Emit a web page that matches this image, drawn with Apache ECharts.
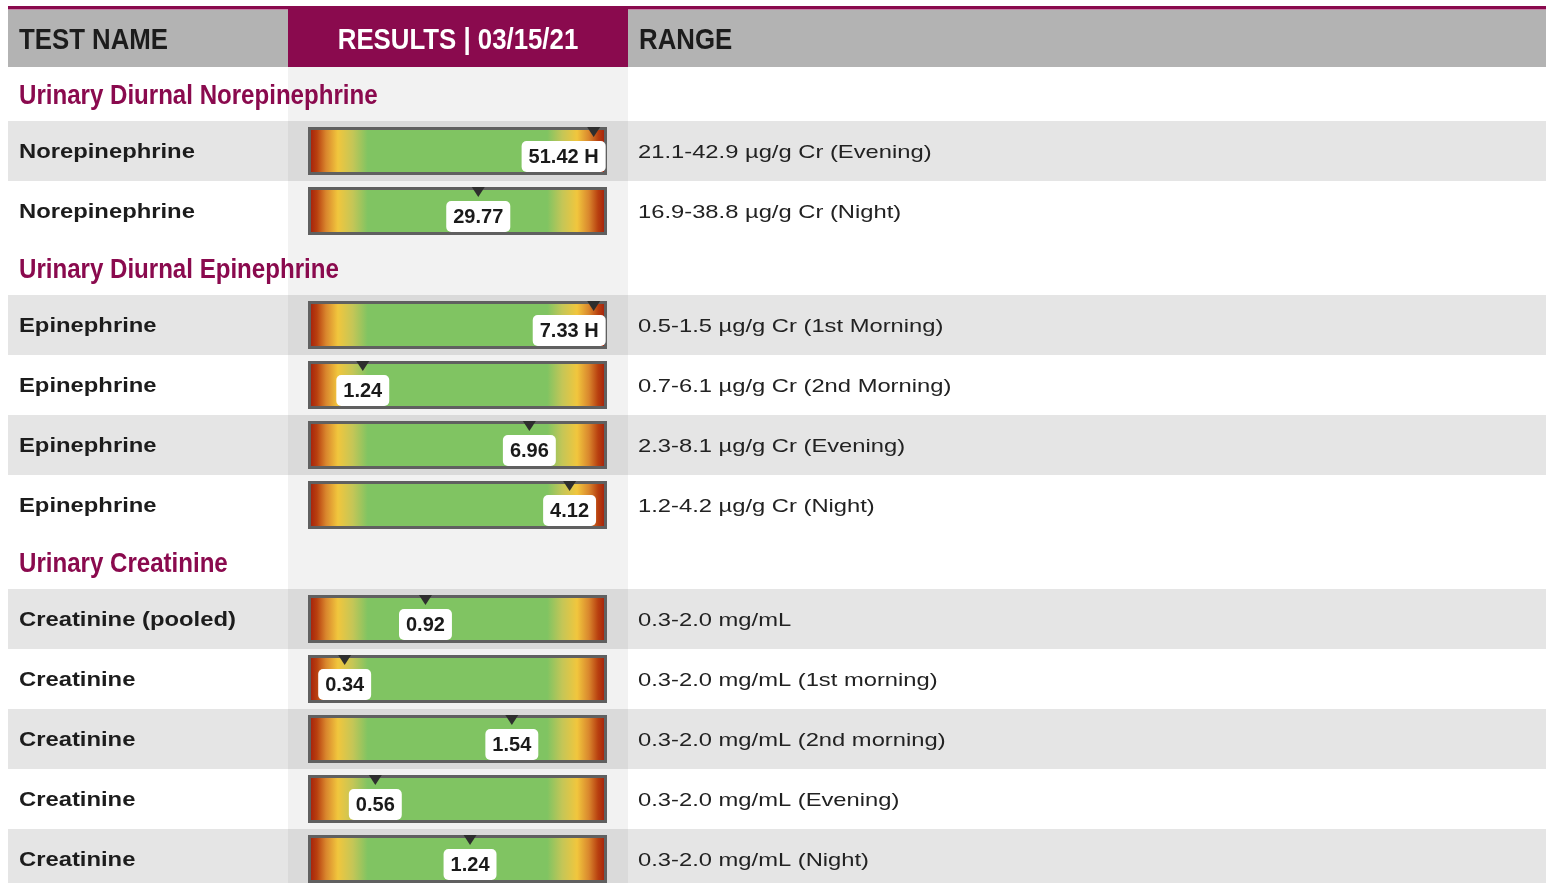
<!DOCTYPE html>
<html>
<head>
<meta charset="utf-8">
<script src="https://cdn.jsdelivr.net/npm/echarts@6/dist/echarts.min.js"></script>
<style>
  html, body { margin: 0; padding: 0; background: #fff; }
  #main { width: 1546px; height: 883px; }
</style>
</head>
<body>
<div id="main"></div>
<script>
// table content
const section_titles = ['Urinary Diurnal Norepinephrine', 'Urinary Diurnal Epinephrine', 'Urinary Creatinine']
const test_section = [0, 0, 1, 1, 1, 1, 2, 2, 2, 2, 2]
const test_names = ['Norepinephrine', 'Norepinephrine', 'Epinephrine', 'Epinephrine', 'Epinephrine', 'Epinephrine',
  'Creatinine (pooled)', 'Creatinine', 'Creatinine', 'Creatinine', 'Creatinine']
const results = [51.42, 29.77, 7.33, 1.24, 6.96, 4.12, 0.92, 0.34, 1.54, 0.56, 1.24]
const range_low = [21.1, 16.9, 0.5, 0.7, 2.3, 1.2, 0.3, 0.3, 0.3, 0.3, 0.3]
const range_high = [42.9, 38.8, 1.5, 6.1, 8.1, 4.2, 2.0, 2.0, 2.0, 2.0, 2.0]
const range_units = ['µg/g Cr', 'µg/g Cr', 'µg/g Cr', 'µg/g Cr', 'µg/g Cr', 'µg/g Cr',
  'mg/mL', 'mg/mL', 'mg/mL', 'mg/mL', 'mg/mL']
const range_notes = ['(Evening)', '(Night)', '(1st Morning)', '(2nd Morning)', '(Evening)', '(Night)',
  '', '(1st morning)', '(2nd morning)', '(Evening)', '(Night)']
const header_labels = ['TEST NAME', 'RESULTS | 03/15/21', 'RANGE']

const MAGENTA = '#8a0a4e'
const W = 1546
const COL2_L = 288, COL2_R = 628

const bar_gradient = () => new echarts.graphic.LinearGradient(0, 0, 1, 0, [
  { offset: 0, color: '#a0180b' },
  { offset: 0.03, color: '#b8400f' },
  { offset: 0.06, color: '#d9862d' },
  { offset: 0.1, color: '#f1c63d' },
  { offset: 0.15, color: '#c4c657' },
  { offset: 0.2, color: '#80c462' },
  { offset: 0.8, color: '#80c462' },
  { offset: 0.85, color: '#c4c657' },
  { offset: 0.9, color: '#f1c63d' },
  { offset: 0.94, color: '#d9862d' },
  { offset: 0.97, color: '#b8400f' },
  { offset: 1, color: '#a0180b' }
])

function txt(text, x, y, font, fill, scaleX, align) {
  return {
    type: 'text', x: x, y: y, scaleX: scaleX, z: 10, silent: true,
    style: {
      text: text, x: 0, y: 0, font: font, fill: fill,
      align: align || 'left', verticalAlign: 'middle',
      textAlign: align || 'left', textVerticalAlign: 'middle'
    }
  }
}
function rect(x, y, w, h, fill) {
  return { type: 'rect', z: -10, silent: true, shape: { x: x, y: y, width: w, height: h }, style: { fill: fill } }
}

const graphics = []
const grids = [], x_axes = [], y_axes = [], series = []

// header
graphics.push(rect(8, 10, W - 8, 57, '#b3b3b3'))
graphics.push(rect(8, 6, W - 8, 3.5, MAGENTA))
graphics.push(rect(COL2_L, 6, COL2_R - COL2_L, 61, MAGENTA))
graphics.push(rect(COL2_L, 67, COL2_R - COL2_L, 883 - 67, '#f2f2f2'))
graphics.push(txt(header_labels[0], 19, 41, 'bold 30px "Liberation Sans"', '#1c1c1c', 0.86))
graphics.push(txt(header_labels[1], (COL2_L + COL2_R) / 2, 41, 'bold 30px "Liberation Sans"', '#ffffff', 0.86, 'center'))
graphics.push(txt(header_labels[2], 639, 41, 'bold 30px "Liberation Sans"', '#1c1c1c', 0.86))

let y = 67
let last_section = -1
let idx_in_section = 0
test_names.forEach((name, i) => {
  if (test_section[i] !== last_section) {
    last_section = test_section[i]
    graphics.push(txt(section_titles[last_section], 19, y + 29, 'bold 28px "Liberation Sans"', MAGENTA, 0.86))
    y += 54
    idx_in_section = 0
  }
  const top = y
  if (idx_in_section % 2 === 0) {
    graphics.push(rect(8, top, W - 8, 60, '#e5e5e5'))
    graphics.push(rect(COL2_L, top, COL2_R - COL2_L, 60, '#dadada'))
  }
  graphics.push(txt(name, 19, top + 31, 'bold 20px "Liberation Sans"', '#1c1c1c', 1.19))
  const lo = range_low[i], hi = range_high[i]
  let rtext = lo.toFixed(1) + '-' + hi.toFixed(1) + ' ' + range_units[i]
  if (range_notes[i]) rtext += ' ' + range_notes[i]
  graphics.push(txt(rtext, 638, top + 32, '19px "Liberation Sans"', '#222222', 1.25))

  // value axis: the normal range sits between 10% and 90% of the bar
  const pad = (hi - lo) * 0.125
  const amin = lo - pad, amax = hi + pad
  const v = results[i]
  const shown = Math.max(amin + 0.04 * (amax - amin), Math.min(v, amin + 0.96 * (amax - amin)))
  const flag = v > hi ? ' H' : (v < lo ? ' L' : '')
  const clamped_high = v > amin + 0.96 * (amax - amin)

  grids.push({
    left: 309.5, width: 296, top: top + 7.5, height: 45,
    show: true, backgroundColor: bar_gradient(), borderColor: '#606060', borderWidth: 3
  })
  x_axes.push({ gridIndex: i, type: 'value', min: amin, max: amax, show: false })
  y_axes.push({ gridIndex: i, type: 'value', min: 0, max: 1, show: false })
  series.push({
    type: 'scatter',
    xAxisIndex: i, yAxisIndex: i,
    clip: false,
    symbol: 'path://M0,0L12,0L6,10Z',
    symbolSize: [13, 10],
    symbolOffset: [0, 3.5],
    itemStyle: { color: '#2e2e2e', opacity: 1 },
    label: {
      show: true,
      position: 'bottom',
      distance: 4,
      align: clamped_high ? 'right' : 'center',
      offset: clamped_high ? [12, 0] : [0, 0],
      formatter: v.toFixed(2) + flag,
      fontFamily: 'Liberation Sans',
      fontSize: 20,
      fontWeight: 'bold',
      lineHeight: 21,
      color: '#1a1a1a',
      backgroundColor: '#ffffff',
      borderRadius: 5,
      padding: [6, 7, 4, 7]
    },
    data: [[shown, 1]]
  })
  y += 60
  idx_in_section++
})

const my_chart = echarts.init(document.getElementById('main'), null, { renderer: 'canvas' })
my_chart.setOption({
  animation: false,
  backgroundColor: '#ffffff',
  graphic: { elements: graphics },
  grid: grids,
  xAxis: x_axes,
  yAxis: y_axes,
  series: series
})
</script>
</body>
</html>
